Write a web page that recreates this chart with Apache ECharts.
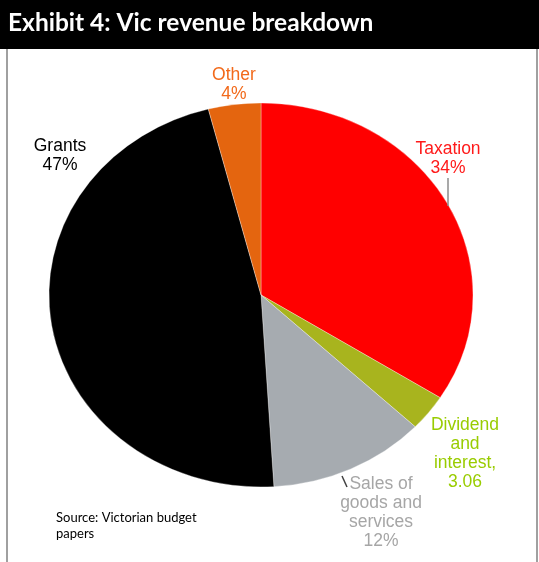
<!DOCTYPE html>
<html>
<head>
<meta charset="utf-8">
<script src="https://cdn.jsdelivr.net/npm/echarts@6/dist/echarts.min.js"></script>
<style>
  html, body { margin: 0; padding: 0; background: #fff; }
  #chart { width: 539px; height: 562px; }
</style>
</head>
<body>
<div id="chart"></div>
<script>
// Victorian revenue by source
const categories = ['Taxation', 'Dividend and interest', 'Sales of goods and services', 'Grants', 'Other'];
const values = [34, 3.06, 12, 47, 4];
// how each label shows its value: share in percent, or the raw figure
const valueFormats = ['pct', 'raw', 'pct', 'pct', 'pct'];
// label wording, broken into lines
const labelNames = [['Taxation'], ['Dividend', 'and', 'interest,'], ['Sales of', 'goods and', 'services'], ['Grants'], ['Other']];

const sliceColors = ['#FF0000', '#A8B41E', '#A6ABB0', '#000000', '#E4650F'];
const labelColors = ['#FF1A1A', '#99CC00', '#A6A6A6', '#000000', '#F26A1B'];

// pie geometry (slightly wider than tall)
const CX = 261, CY = 295, RY = 192, RX = 212;
// label anchors: centre x, middle of first line
const labelAnchors = [[448, 149], [465, 425], [381, 484], [60, 146], [234, 75]];
// leader lines from label towards slice
const leaders = [
  [[448, 178], [448, 206]],
  null,
  [[342, 476], [347, 487]],
  null,
  null
];
const leaderColors = ['#8C8C8C', null, '#404040', null, null];
const LINE_H = 19;

const total = values.reduce((a, b) => a + b, 0);
const starts = [];
values.reduce((acc, v, i) => { starts[i] = acc; return acc + v; }, 0);

function labelText(i) {
  const v = values[i];
  const vt = valueFormats[i] === 'pct' ? v + '%' : v.toFixed(2);
  return labelNames[i].concat([vt]).join('\n');
}

const chart = echarts.init(document.getElementById('chart'), null, { renderer: 'canvas' });

chart.setOption({
  animation: false,
  backgroundColor: '#fff',
  graphic: [
    { type: 'rect', shape: { x: 0, y: 0, width: 539, height: 49 }, style: { fill: '#000' }, z: 0 },
    { type: 'line', shape: { x1: 7, y1: 49, x2: 7, y2: 562 }, style: { stroke: '#A0A0A0', lineWidth: 2 } },
    { type: 'line', shape: { x1: 537, y1: 49, x2: 537, y2: 562 }, style: { stroke: '#A0A0A0', lineWidth: 2 } },
    {
      type: 'text', x: 56, y: 510,
      style: {
        text: 'Source: Victorian budget\npapers',
        font: '13px Lato, "Open Sans", sans-serif',
        fill: '#000', lineHeight: 16
      }
    }
  ],
  title: {
    text: 'Exhibit 4: Vic revenue breakdown',
    left: 3, top: 6,
    textStyle: { color: '#fff', fontSize: 24.5, fontWeight: 'bold', fontFamily: 'Lato, "Open Sans", sans-serif' }
  },
  series: [{
    type: 'custom',
    coordinateSystem: 'none',
    data: values.map((v, i) => ({ name: categories[i], value: v })),
    renderItem: function (params, api) {
      const i = params.dataIndex;
      const a0 = -Math.PI / 2 + 2 * Math.PI * starts[i] / total;
      const a1 = -Math.PI / 2 + 2 * Math.PI * (starts[i] + values[i]) / total;
      const children = [{
        type: 'sector',
        x: CX, y: CY, scaleX: RX / RY,
        shape: { cx: 0, cy: 0, r0: 0, r: RY, startAngle: a0, endAngle: a1, clockwise: true },
        style: { fill: sliceColors[i], stroke: 'rgba(255,255,255,0.6)', lineWidth: 0.5 }
      }, {
        type: 'text',
        x: labelAnchors[i][0], y: labelAnchors[i][1] - LINE_H / 2,
        style: {
          text: labelText(i),
          fill: labelColors[i],
          font: '17.5px "Liberation Sans", Arial, sans-serif',
          align: 'center', verticalAlign: 'top', lineHeight: LINE_H
        },
        z2: 10
      }];
      if (leaders[i]) {
        children.push({
          type: 'line',
          shape: { x1: leaders[i][0][0], y1: leaders[i][0][1], x2: leaders[i][1][0], y2: leaders[i][1][1] },
          style: { stroke: leaderColors[i], lineWidth: 1.5 },
          z2: 10
        });
      }
      return { type: 'group', children: children };
    }
  }]
});
</script>
</body>
</html>
